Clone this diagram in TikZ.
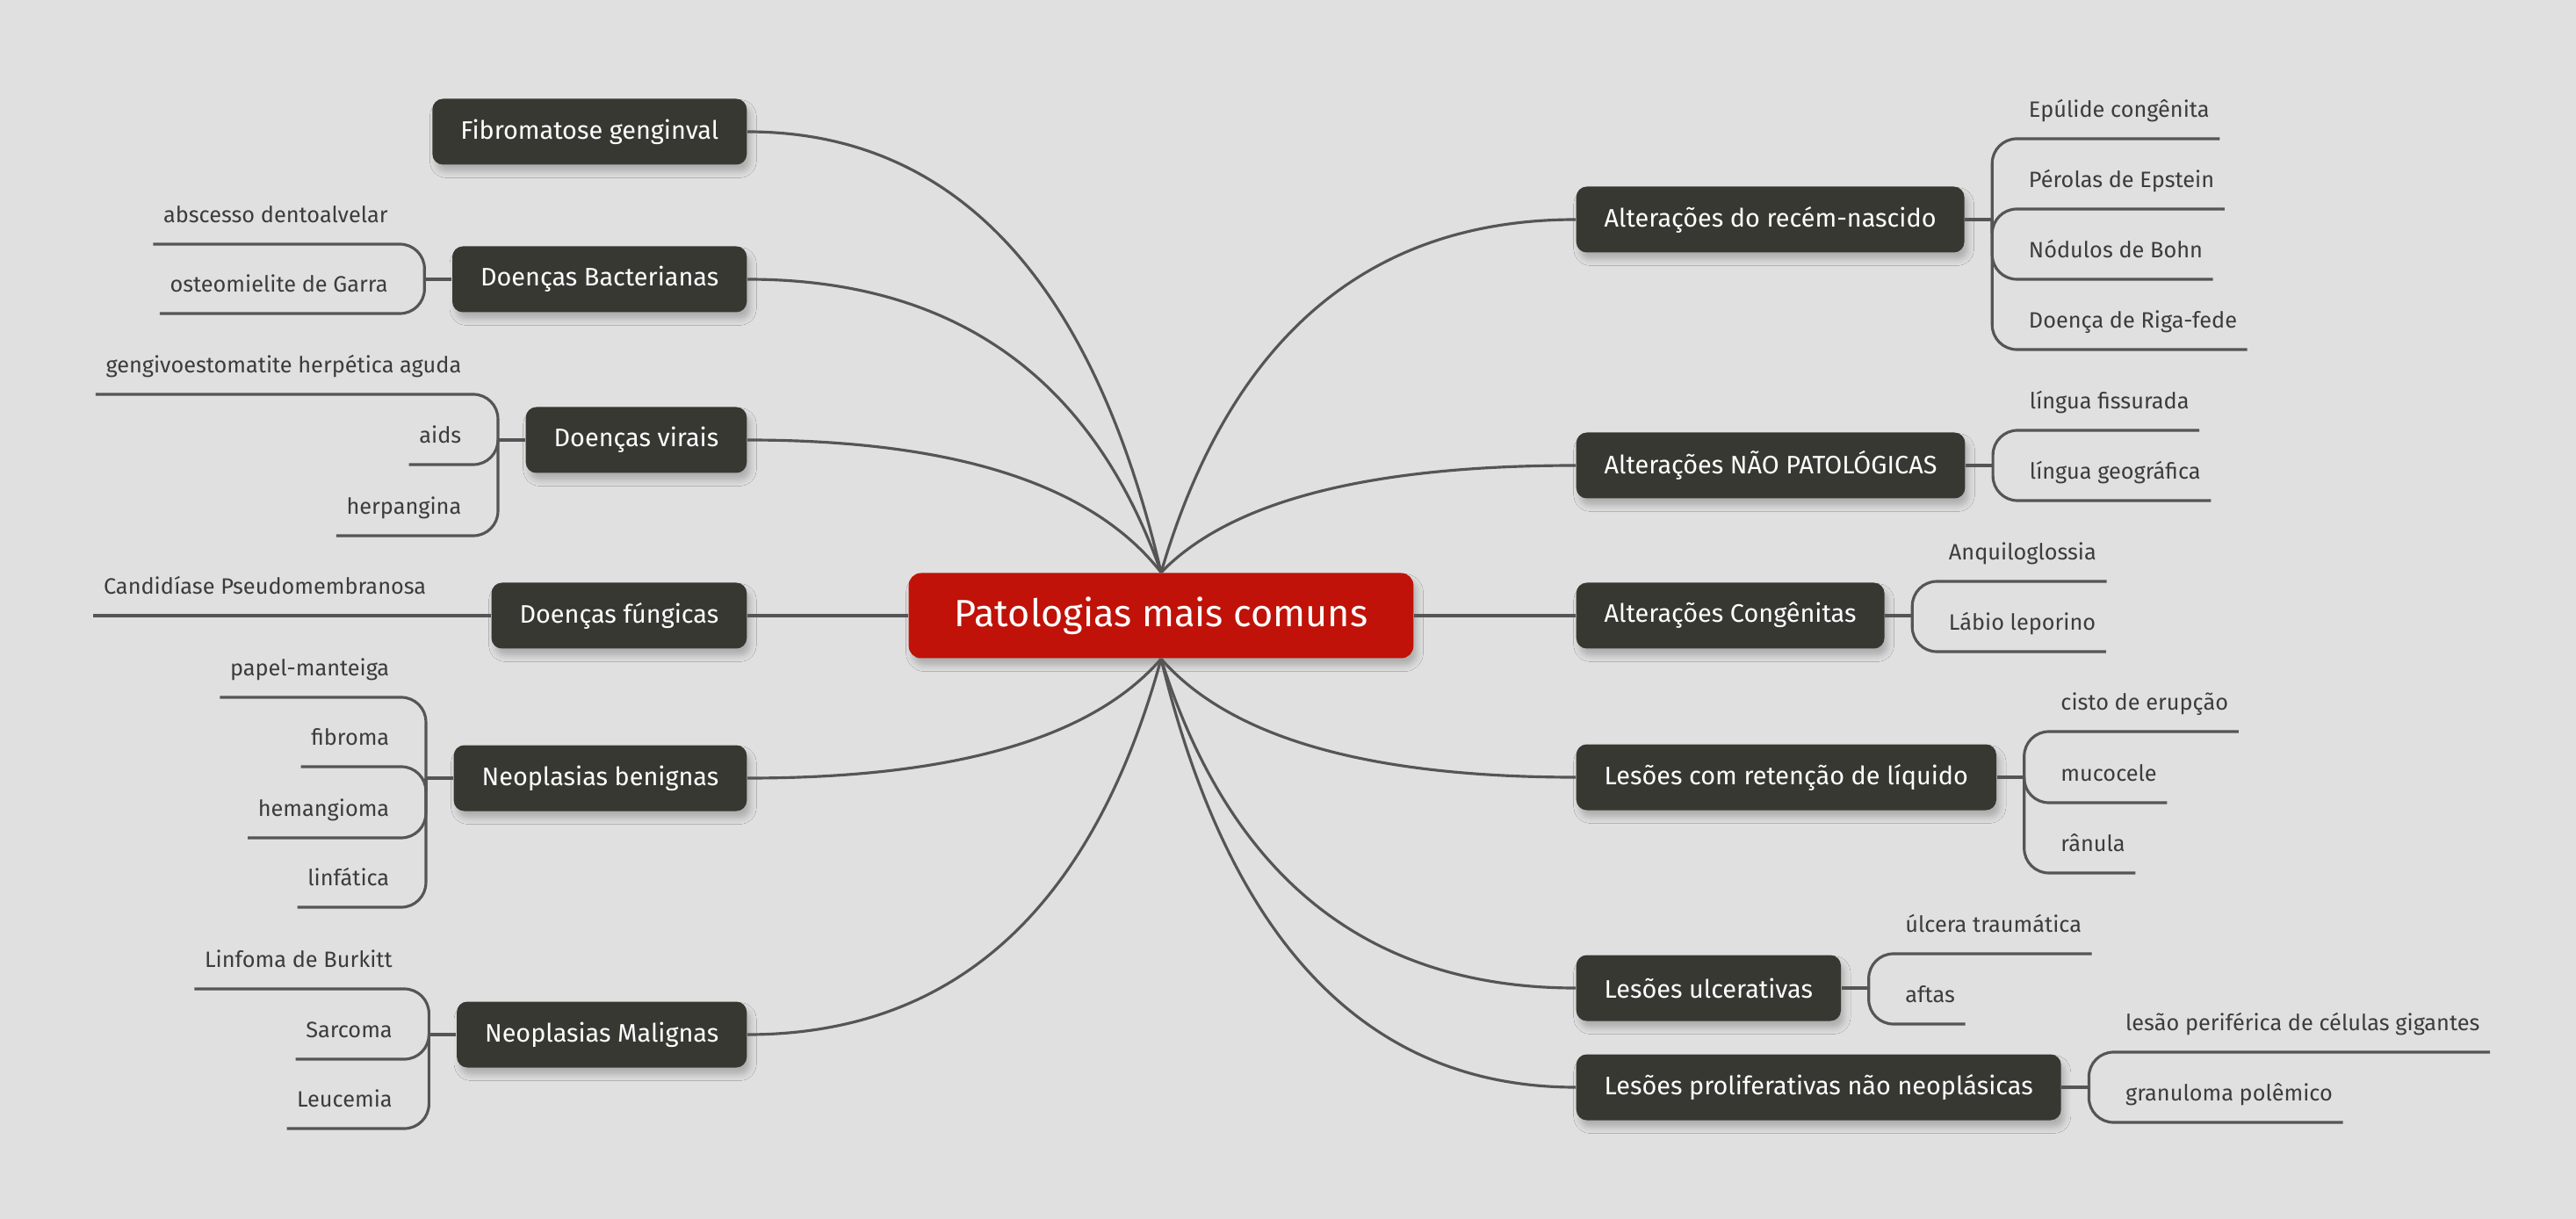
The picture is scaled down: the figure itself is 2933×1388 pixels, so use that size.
\documentclass[tikz,border=0pt]{standalone}
\usepackage{fontspec}
\setmainfont{Fira Sans}
\usetikzlibrary{calc,shadows.blur}

\definecolor{bg}{RGB}{224,224,224}
\definecolor{topicfill}{RGB}{56,56,51}
\definecolor{rootfill}{RGB}{192,18,8}
\definecolor{linegray}{RGB}{85,85,85}
\definecolor{leaftext}{RGB}{60,60,60}

\tikzset{
  softshadow/.style={blur shadow={shadow xshift=0.4mm, shadow yshift=-0.8mm, shadow blur radius=0.7mm, shadow opacity=22}},
  root/.style={fill=rootfill, text=white, rounded corners=1.4mm, minimum height=9.7mm, inner xsep=5.2mm, font=\fontsize{12.3}{14}\selectfont, softshadow},
  topic/.style={fill=topicfill, text=white, rounded corners=1.2mm, minimum height=7.5mm, inner xsep=3.2mm, font=\fontsize{8.2}{10}\selectfont, softshadow},
  leaf/.style={text=leaftext, inner sep=0pt, inner xsep=1.1mm, text depth=2.35mm, font=\fontsize{7.2}{8}\selectfont},
  leafl/.style={leaf, anchor=south east},
  leafr/.style={leaf, anchor=south west},
  branch/.style={draw=linegray, line width=0.9pt},
  bracket/.style={branch, rounded corners=2.8mm}
}

\begin{document}
\begin{tikzpicture}[x=0.1mm, y=-0.1mm]

\fill[bg] (0,0) rectangle (2933,1388);
\useasboundingbox (0,0) rectangle (2933,1388);

% Centre
\node[root] (root) at (1322,701) {Patologias mais comuns};

% Left topics
\node[topic, anchor=east] (fib) at (851,150) {Fibromatose genginval};
\node[topic, anchor=east] (bac) at (851,318) {Doenças Bacterianas};
\node[topic, anchor=east] (vir) at (851,501) {Doenças virais};
\node[topic, anchor=east] (fun) at (851,701) {Doenças fúngicas};
\node[topic, anchor=east] (ben) at (851,886) {Neoplasias benignas};
\node[topic, anchor=east] (mal) at (851,1178) {Neoplasias Malignas};

% Right topics
\node[topic, anchor=west] (rec) at (1794,250) {Alterações do recém-nascido};
\node[topic, anchor=west] (nao) at (1794,530) {Alterações NÃO PATOLÓGICAS};
\node[topic, anchor=west] (cong) at (1794,701) {Alterações Congênitas};
\node[topic, anchor=west] (liq) at (1794,885) {Lesões com retenção de líquido};
\node[topic, anchor=west] (ulc) at (1794,1125) {Lesões ulcerativas};
\node[topic, anchor=west] (pro) at (1794,1238) {Lesões proliferativas não neoplásicas};

% Curves to the centre
\foreach \t/\s/\e in {fib/east/north,bac/east/north,vir/east/north,ben/east/south,mal/east/south,
                      rec/west/north,nao/west/north,liq/west/south,ulc/west/south,pro/west/south}{
  \coordinate (k0) at ($(\t.\s)!0.75!(root.\e)$);
  \coordinate (k) at (k0 |- \t.\s);
  \draw[branch] (\t.\s) .. controls ($(\t.\s)!2/3!(k)$) and ($(root.\e)!2/3!(k)$) .. (root.\e);
}
\draw[branch] (fun.east) -- (root.west);
\draw[branch] (cong.west) -- (root.east);

% Bracket joints
\foreach \t in {bac,vir,ben,mal}{
  \coordinate (\t j) at ([xshift=-3.1mm]\t.west);
  \draw[branch] (\t.west) -- (\t j);
}
\foreach \t in {rec,nao,cong,liq,ulc,pro}{
  \coordinate (\t j) at ([xshift=3.1mm]\t.east);
  \draw[branch] (\t.east) -- (\t j);
}

% Doenças Bacterianas
\node[leafl, xshift=-3mm] (bac1) at (bacj |- 0,278) {abscesso dentoalvelar};
\node[leafl, xshift=-3mm] (bac2) at (bacj |- 0,357) {osteomielite de Garra};

% Doenças virais
\node[leafl, xshift=-3mm] (vir1) at (virj |- 0,449) {gengivoestomatite herpética aguda};
\node[leafl, xshift=-3mm] (vir2) at (virj |- 0,529) {aids};
\node[leafl, xshift=-3mm] (vir3) at (virj |- 0,610) {herpangina};

% Doenças fúngicas
\node[leafl, xshift=-6.2mm] (fun1) at (fun.west) {Candidíase Pseudomembranosa};
\draw[branch] (fun.west) -- (fun1.south west);

% Neoplasias benignas
\node[leafl, xshift=-3mm] (ben1) at (benj |- 0,794) {papel-manteiga};
\node[leafl, xshift=-3mm] (ben2) at (benj |- 0,873) {fibroma};
\node[leafl, xshift=-3mm] (ben3) at (benj |- 0,954) {hemangioma};
\node[leafl, xshift=-3mm] (ben4) at (benj |- 0,1033) {linfática};

% Neoplasias Malignas
\node[leafl, xshift=-3mm] (mal1) at (malj |- 0,1126) {Linfoma de Burkitt};
\node[leafl, xshift=-3mm] (mal2) at (malj |- 0,1206) {Sarcoma};
\node[leafl, xshift=-3mm] (mal3) at (malj |- 0,1285) {Leucemia};

% Alterações do recém-nascido
\node[leafr, xshift=3mm] (rec1) at (recj |- 0,158) {Epúlide congênita};
\node[leafr, xshift=3mm] (rec2) at (recj |- 0,238) {Pérolas de Epstein};
\node[leafr, xshift=3mm] (rec3) at (recj |- 0,318) {Nódulos de Bohn};
\node[leafr, xshift=3mm] (rec4) at (recj |- 0,398) {Doença de Riga-fede};

% Alterações NÃO PATOLÓGICAS
\node[leafr, xshift=3mm] (nao1) at (naoj |- 0,490) {língua fissurada};
\node[leafr, xshift=3mm] (nao2) at (naoj |- 0,570) {língua geográfica};

% Alterações Congênitas
\node[leafr, xshift=3mm] (cong1) at (congj |- 0,662) {Anquiloglossia};
\node[leafr, xshift=3mm] (cong2) at (congj |- 0,742) {Lábio leporino};

% Lesões com retenção de líquido
\node[leafr, xshift=3mm] (liq1) at (liqj |- 0,833) {cisto de erupção};
\node[leafr, xshift=3mm] (liq2) at (liqj |- 0,914) {mucocele};
\node[leafr, xshift=3mm] (liq3) at (liqj |- 0,994) {rânula};

% Lesões ulcerativas
\node[leafr, xshift=3mm] (ulc1) at (ulcj |- 0,1086) {úlcera traumática};
\node[leafr, xshift=3mm] (ulc2) at (ulcj |- 0,1166) {aftas};

% Lesões proliferativas não neoplásicas
\node[leafr, xshift=3mm] (pro1) at (proj |- 0,1198) {lesão periférica de células gigantes};
\node[leafr, xshift=3mm] (pro2) at (proj |- 0,1278) {granuloma polêmico};

% Brackets
\foreach \t/\n in {bac/2,vir/3,ben/4,mal/3}
  \foreach \i in {1,...,\n}
    \draw[bracket] (\t j) |- (\t\i.south west);
\foreach \t/\n in {rec/4,nao/2,cong/2,liq/3,ulc/2,pro/2}
  \foreach \i in {1,...,\n}
    \draw[bracket] (\t j) |- (\t\i.south east);

\end{tikzpicture}
\end{document}
